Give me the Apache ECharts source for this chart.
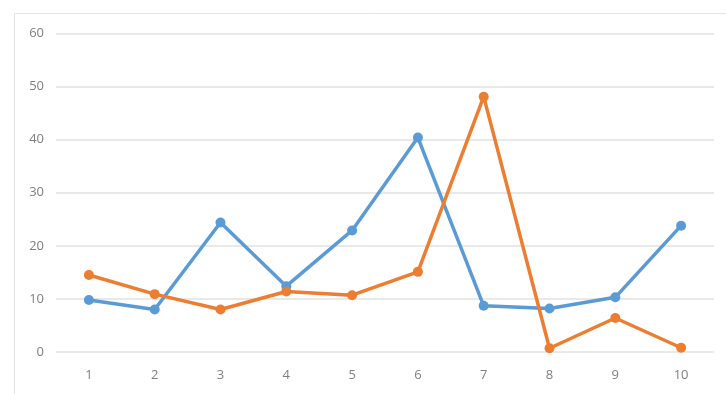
<!DOCTYPE html>
<html>
<head>
<meta charset="utf-8">
<script src="https://cdn.jsdelivr.net/npm/echarts@6/dist/echarts.min.js"></script>
<style>
html,body{margin:0;padding:0;background:#fff;}
#c{width:726px;height:394px;}
</style>
</head>
<body>
<div id="c"></div>
<script>
const categories = ['1','2','3','4','5','6','7','8','9','10'];
const blueValues = [9.8, 8.0, 24.4, 12.4, 22.9, 40.4, 8.7, 8.2, 10.3, 23.8];
const orangeValues = [14.5, 10.9, 8.0, 11.4, 10.7, 15.1, 48.1, 0.7, 6.4, 0.8];
const yTicks = { min: 0, max: 60, interval: 10 };

const chart = echarts.init(document.getElementById('c'), null, {renderer: 'canvas'});
chart.setOption({
  animation: false,
  backgroundColor: '#ffffff',
  graphic: [{
    type: 'rect',
    left: 12, top: 11,
    shape: {x: 0, y: 0, width: 740, height: 420},
    style: {fill: 'none', stroke: '#e4e4e4', lineWidth: 1},
    z: -1
  }],
  grid: {left: 56, right: 12, top: 33.5, bottom: 42, containLabel: false},
  xAxis: {
    type: 'category',
    data: categories,
    boundaryGap: true,
    axisLine: {show: false},
    axisTick: {show: false},
    axisLabel: {color: '#7f7f7f', fontSize: 13, fontFamily: 'Open Sans', margin: 17}
  },
  yAxis: {
    type: 'value',
    min: yTicks.min, max: yTicks.max, interval: yTicks.interval,
    axisLine: {show: false},
    axisTick: {show: false},
    axisLabel: {color: '#7f7f7f', fontSize: 13, fontFamily: 'Open Sans', margin: 12},
    splitLine: {lineStyle: {color: '#e2e2e2', width: 1.5}}
  },
  series: [
    {
      type: 'line', data: blueValues,
      symbol: 'circle', symbolSize: 10,
      lineStyle: {color: '#5B9BD5', width: 3.5},
      itemStyle: {color: '#5B9BD5'}
    },
    {
      type: 'line', data: orangeValues,
      symbol: 'circle', symbolSize: 10,
      lineStyle: {color: '#ED7D31', width: 3.5},
      itemStyle: {color: '#ED7D31'}
    }
  ]
});
</script>
</body>
</html>
